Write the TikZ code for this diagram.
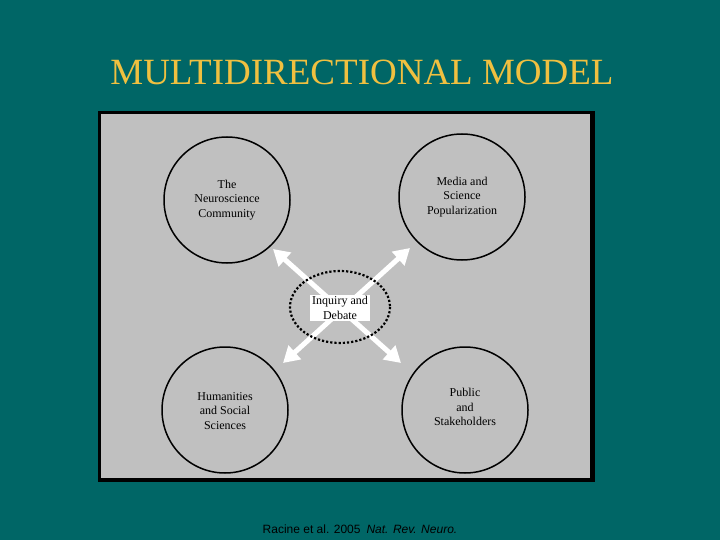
\documentclass[tikz,border=0pt]{standalone}
\usepackage{fontspec}
\setmainfont{Liberation Serif}
\setsansfont{Liberation Sans}
\usetikzlibrary{arrows.meta}
\definecolor{bg}{HTML}{006666}
\definecolor{gold}{HTML}{F0C040}
\definecolor{panel}{HTML}{C0C0C0}
\begin{document}
\begin{tikzpicture}[x=1pt,y=-1pt,
  circ/.style={draw,line width=1.5pt,circle,minimum size=126pt,inner sep=0pt},
  lbl/.style={font=\fontsize{12}{14.5}\selectfont,align=center},
  arr/.style={white,line width=5pt,{Triangle[length=16pt,width=18pt]}-{Triangle[length=16pt,width=18pt]}}]
\fill[bg] (0,0) rectangle (720,540);
\useasboundingbox (0,0) rectangle (720,540);
\node[gold,font=\fontsize{37}{40}\selectfont] (title) at (362,72) {MULTIDIRECTIONAL MODEL};
\fill[black] (98,111) rectangle (595,482);
\fill[panel] (101,114) rectangle (590,478);
\node[circ] (tl) at (227,200) {};
\node[lbl] (tlt) at (227,200) {The\\Neuroscience\\Community};
\node[circ] (tr) at (462,197) {};
\node[lbl] (trt) at (462,197) {Media and\\Science\\Popularization};
\node[circ] (bl) at (225,410) {};
\node[lbl] (blt) at (225,411) {Humanities\\and Social\\Sciences};
\node[circ] (br) at (465,410) {};
\node[lbl] (brt) at (465,407) {Public\\and\\Stakeholders};
\coordinate (a1) at (273,249);
\coordinate (a2) at (401,363);
\coordinate (b1) at (410,248);
\coordinate (b2) at (283,363);
\draw[arr] (a1) -- (a2);
\draw[arr] (b1) -- (b2);
\draw[line width=2.2pt,dotted] (340,307) ellipse (50 and 36);
\node[fill=white,lbl,inner sep=2pt] (c) at (340,308) {Inquiry and\\Debate};
\node[black,font=\sffamily\fontsize{12}{14}\selectfont] (cite) at (360,529) {Racine et al. 2005\enspace\textit{Nat. Rev. Neuro.}};
\end{tikzpicture}
\end{document}
